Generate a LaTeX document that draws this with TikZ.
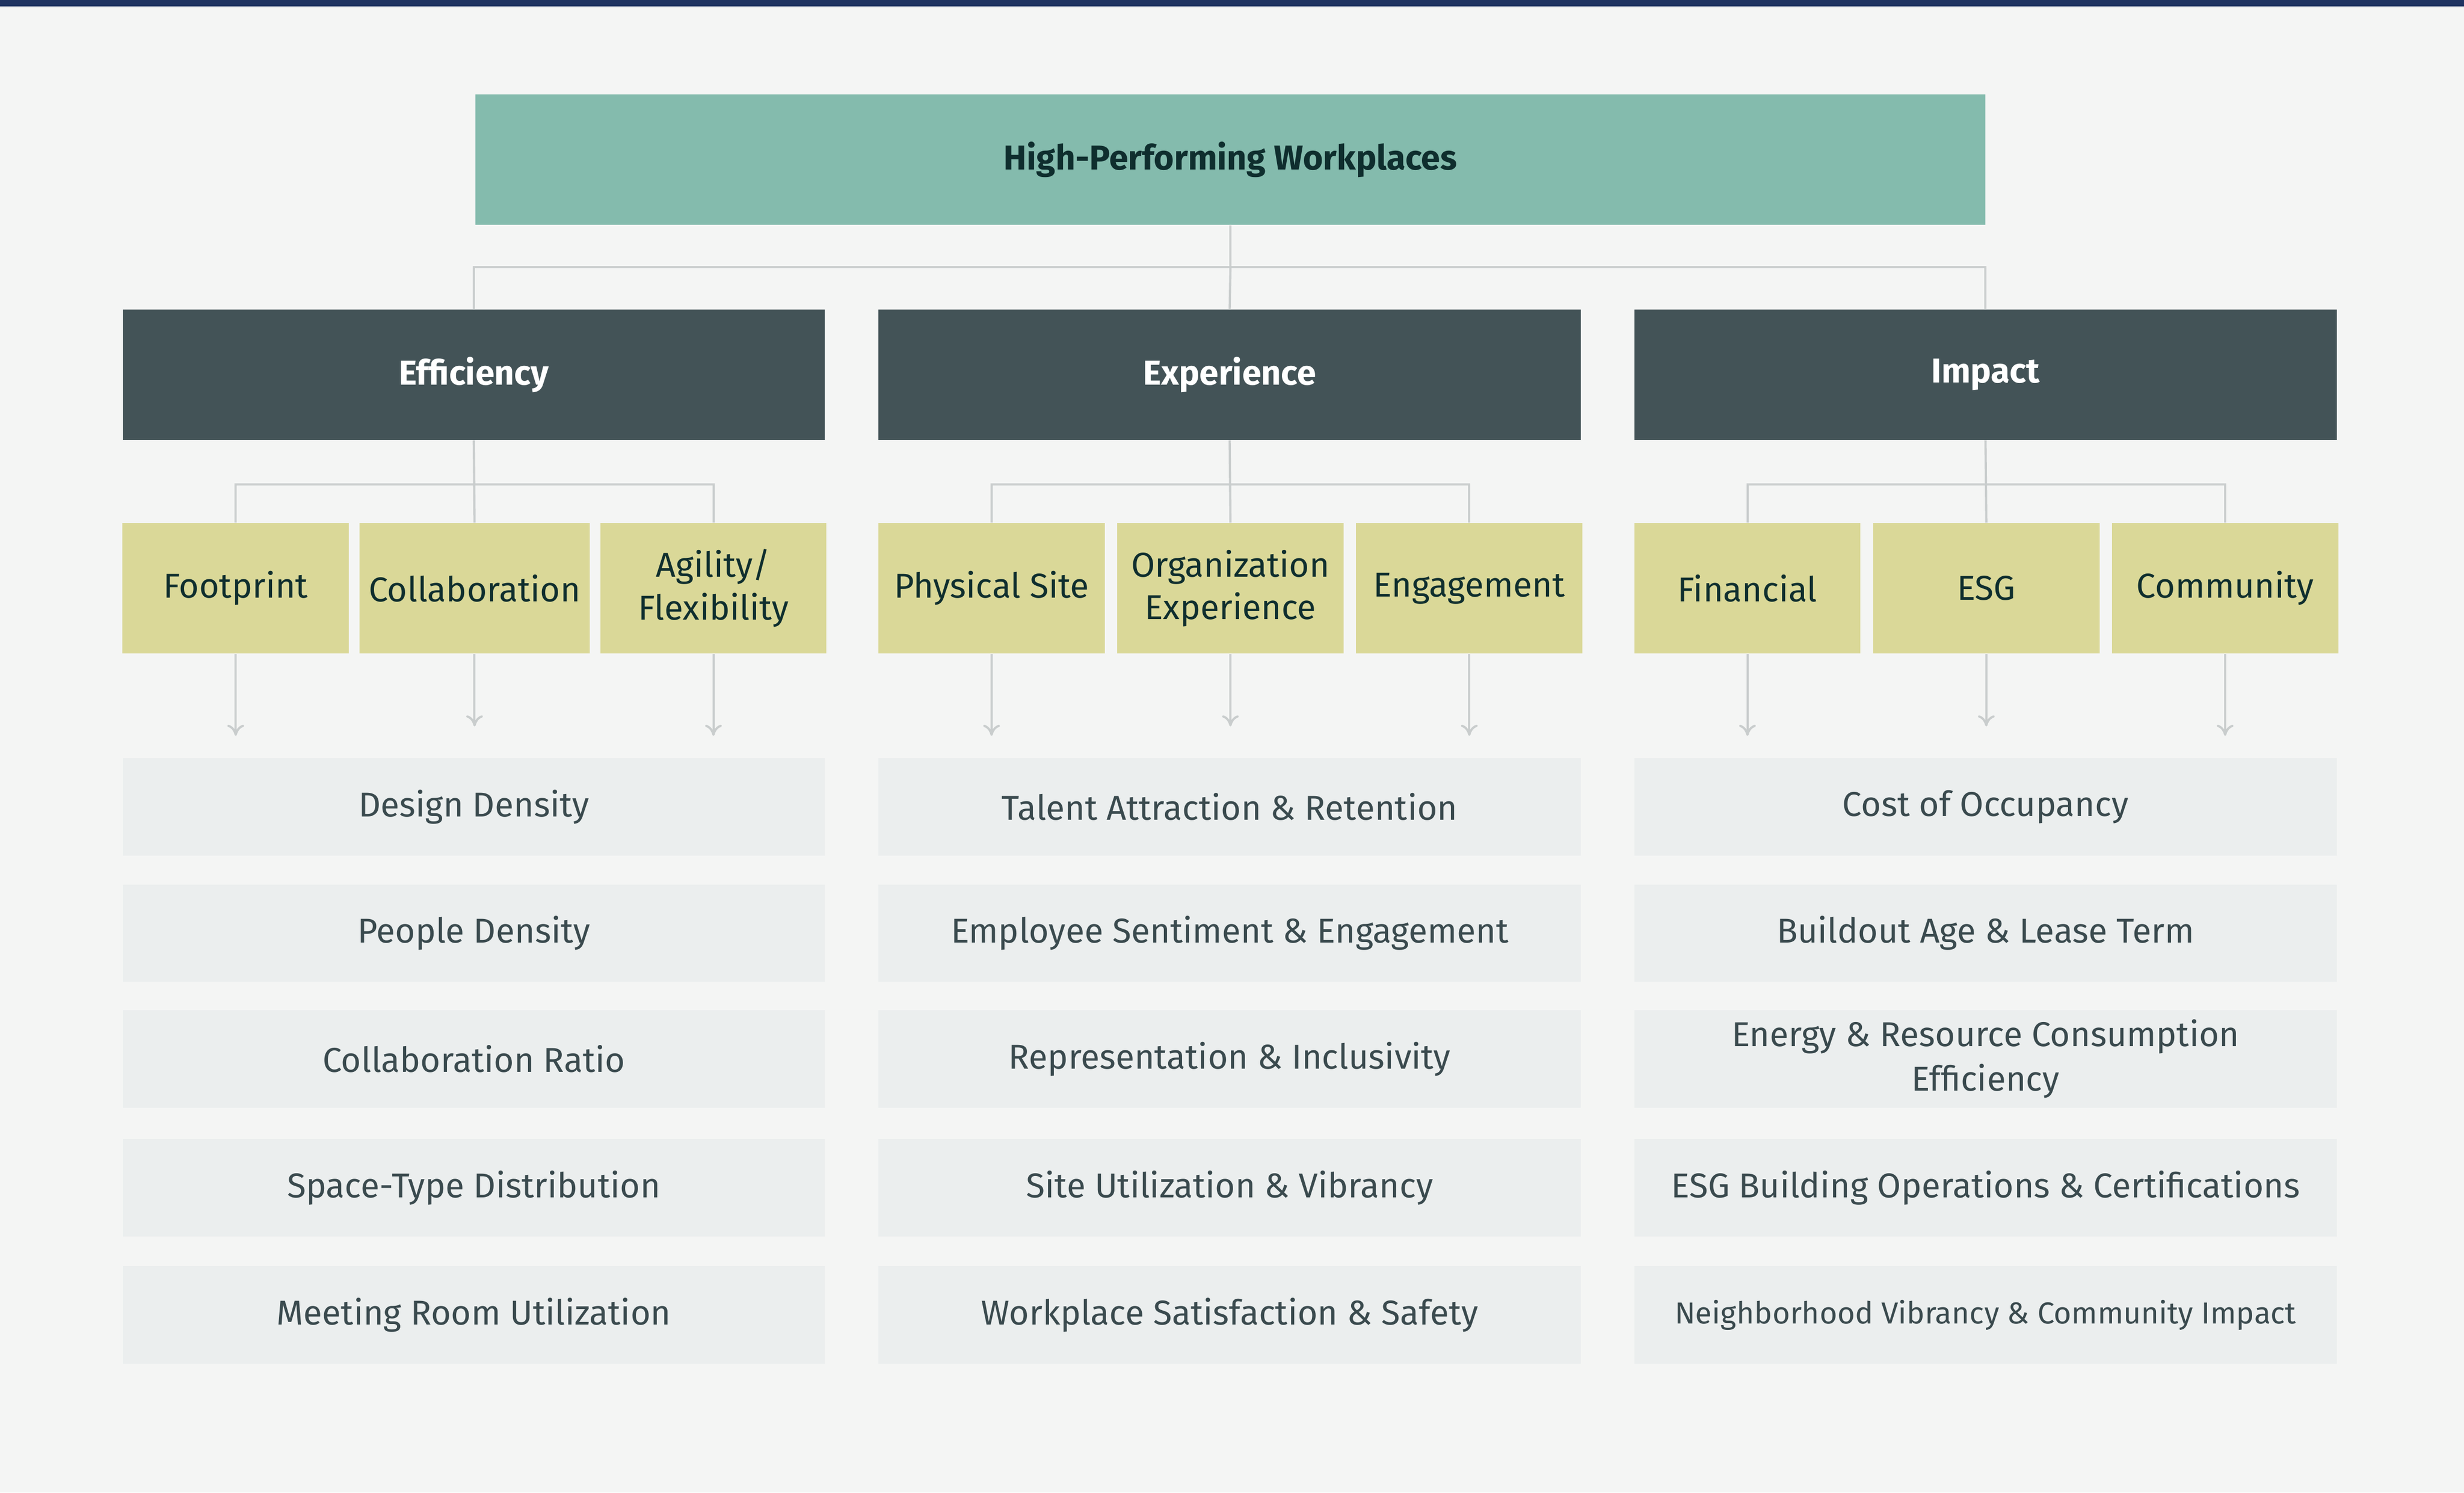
\documentclass[tikz,border=0pt]{standalone}
\usepackage{fontspec}
\setmainfont{Fira Sans}
\definecolor{bgc}{HTML}{F4F5F4}
\definecolor{navy}{HTML}{1F3461}
\definecolor{topc}{HTML}{84BBAD}
\definecolor{catc}{HTML}{435357}
\definecolor{subc}{HTML}{DAD898}
\definecolor{metc}{HTML}{EBEEEE}
\definecolor{txtc}{HTML}{0F2E2E}
\definecolor{metxt}{HTML}{3A4A4E}
\definecolor{linec}{HTML}{C9CDCD}
\tikzset{
  topbox/.style={fill=topc,minimum width=19.22cm,minimum height=1.66cm,text=txtc,font=\fontsize{12.5}{15}\selectfont\bfseries},
  catbox/.style={fill=catc,minimum width=8.94cm,minimum height=1.66cm,text=white,font=\fontsize{12.5}{15}\selectfont\bfseries},
  subbox/.style={fill=subc,minimum width=2.88cm,minimum height=1.66cm,text=txtc,align=center,font=\fontsize{12.5}{15.5}\selectfont},
  metbox/.style={fill=metc,minimum width=8.94cm,minimum height=1.24cm,text=metxt,align=center,font=\fontsize{12.5}{16}\selectfont},
  conn/.style={draw=linec,line width=0.8pt},
  arr/.style={conn,-{To[length=4pt,width=6pt]}}
}
\usetikzlibrary{arrows.meta}
\begin{document}
\begin{tikzpicture}[x=0.02cm,y=-0.02cm]
\fill[bgc] (0,0) rectangle (1568,950);
\fill[navy] (0,0) rectangle (1568,4);
\useasboundingbox (0,0) rectangle (1568,950);

\node[topbox] (hpw) at (783,101.5) {High-Performing Workplaces};

%categories
\node[catbox] (eff) at (301.5,238.5) {Efficiency};
\node[catbox] (exp) at (782.5,238.5) {Experience};
\node[catbox] (imp) at (1263.5,238.5) {Impact};

\coordinate (hj) at (783,170);
\draw[conn] (hpw.south) -- (hj);
\draw[conn] (eff.north) |- (hj) -| (imp.north);
\draw[conn] (hj) -- (exp.north);

%sub topics
\node[subbox] (foot) at (150,374.5) {Footprint};
\node[subbox] (coll) at (302,374.5) {Collaboration};
\node[subbox] (agil) at (454,374.5) {Agility/\\Flexibility};
\node[subbox] (phys) at (631,374.5) {Physical Site};
\node[subbox] (orgx) at (783,374.5) {Organization\\Experience};
\node[subbox] (enga) at (935,374.5) {Engagement};
\node[subbox] (fina) at (1112,374.5) {Financial};
\node[subbox] (esg) at (1264,374.5) {ESG};
\node[subbox] (comm) at (1416,374.5) {Community};

\foreach \c/\l/\m/\r in {eff/foot/coll/agil,exp/phys/orgx/enga,imp/fina/esg/comm}{
  \coordinate (\c j) at ([yshift=-0.56cm]\c.south);
  \draw[conn] (\c.south) -- (\m.north);
  \draw[conn] (\l.north) |- (\c j) -| (\r.north);
}

%arrows down
\foreach \s/\d in {foot/1.04,coll/0.92,agil/1.04,phys/1.04,orgx/0.92,enga/1.04,fina/1.04,esg/0.92,comm/1.04}{
  \coordinate (\s a) at ([yshift=-\d cm]\s.south);
  \draw[arr] (\s.south) -- (\s a);
}

%metrics
\foreach \n/\y/\t in {1/513.5/Design Density,2/594/People Density,3/674/Collaboration Ratio,4/756/Space-Type Distribution,5/837/Meeting Room Utilization}
  \node[metbox] (effm\n) at (301.5,\y) {\t};
\foreach \n/\y/\t in {1/513.5/Talent Attraction \& Retention,2/594/Employee Sentiment \& Engagement,3/674/Representation \& Inclusivity,4/756/Site Utilization \& Vibrancy,5/837/Workplace Satisfaction \& Safety}
  \node[metbox] (expm\n) at (782.5,\y) {\t};
\foreach \n/\y/\t in {1/513.5/Cost of Occupancy,2/594/Buildout Age \& Lease Term,3/674/Energy \& Resource Consumption\\Efficiency,4/756/ESG Building Operations \& Certifications}
  \node[metbox] (impm\n) at (1263.5,\y) {\t};
\node[metbox,font=\fontsize{11}{14}\selectfont] (impm5) at (1263.5,837) {Neighborhood Vibrancy \& Community Impact};

\end{tikzpicture}
\end{document}
